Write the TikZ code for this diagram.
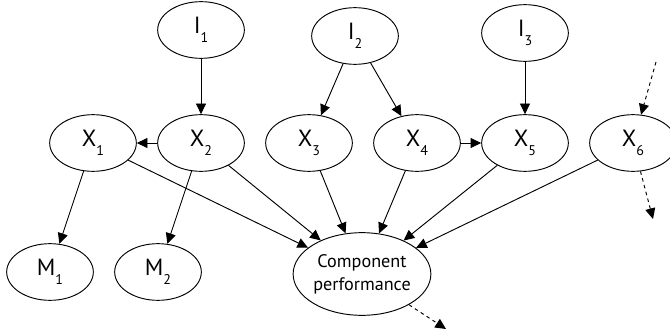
\documentclass[tikz,border=0pt]{standalone}
\usepackage{fontspec}
\setmainfont{PT Sans}
\usetikzlibrary{shapes.geometric, arrows.meta}

% subscript as in the figure
\newcommand{\lowsub}[1]{\raisebox{-0.8ex}{\fontsize{12}{12}\selectfont #1}}

\begin{document}
\begin{tikzpicture}[x=0.03cm, y=-0.03cm,
    var/.style={draw, ellipse, line width=0.8pt, inner sep=0pt,
        minimum width=2.6cm, minimum height=1.7cm,
        font=\fontsize{20}{22}\selectfont},
    perf/.style={var, minimum width=3.95cm, minimum height=2.48cm,
        align=center, font=\fontsize{15.5}{19.6}\selectfont},
    link/.style={line width=0.8pt, -{Triangle[length=3.2mm, width=3mm]}},
    loose/.style={link, dashed}]
    \useasboundingbox (0,0) rectangle (670,336);
    % Inputs
    \node[var] (I1) at (201,30) {I\lowsub{1}};
    \node[var] (I2) at (355,36) {I\lowsub{2}};
    \node[var] (I3) at (525,33) {I\lowsub{3}};
    % Variables
    \node[var] (X1) at (93,143) {X\lowsub{1}};
    \node[var] (X2) at (201,143) {X\lowsub{2}};
    \node[var] (X3) at (309,143) {X\lowsub{3}};
    \node[var] (X4) at (417,143) {X\lowsub{4}};
    \node[var] (X5) at (525,143) {X\lowsub{5}};
    \node[var] (X6) at (633,143) {X\lowsub{6}};
    % Measurements and performance
    \node[var] (M1) at (50,272) {M\lowsub{1}};
    \node[var] (M2) at (158,272) {M\lowsub{2}};
    \node[perf] (CP) at (362,274) {Component\\performance};
    % Loose ends
    \coordinate (x6in) at (656,62);
    \coordinate (x6out) at (653,219);
    \coordinate (cpout) at (446,329);
    % Links
    \draw[link] (I1) -- (X2);
    \draw[link] (I2) -- (X3);
    \draw[link] (I2) -- (X4);
    \draw[link] (I3) -- (X5);
    \draw[link] (X2) -- (X1);
    \draw[link] (X4) -- (X5);
    \draw[link] (X1) -- (M1);
    \draw[link] (X2) -- (M2);
    \foreach \v in {X1,X2,X3,X4,X5,X6}
        \draw[link] (\v) -- (CP);
    \draw[loose] (x6in) -- (X6);
    \draw[loose] (X6) -- (x6out);
    \draw[loose] (CP) -- (cpout);
\end{tikzpicture}
\end{document}
